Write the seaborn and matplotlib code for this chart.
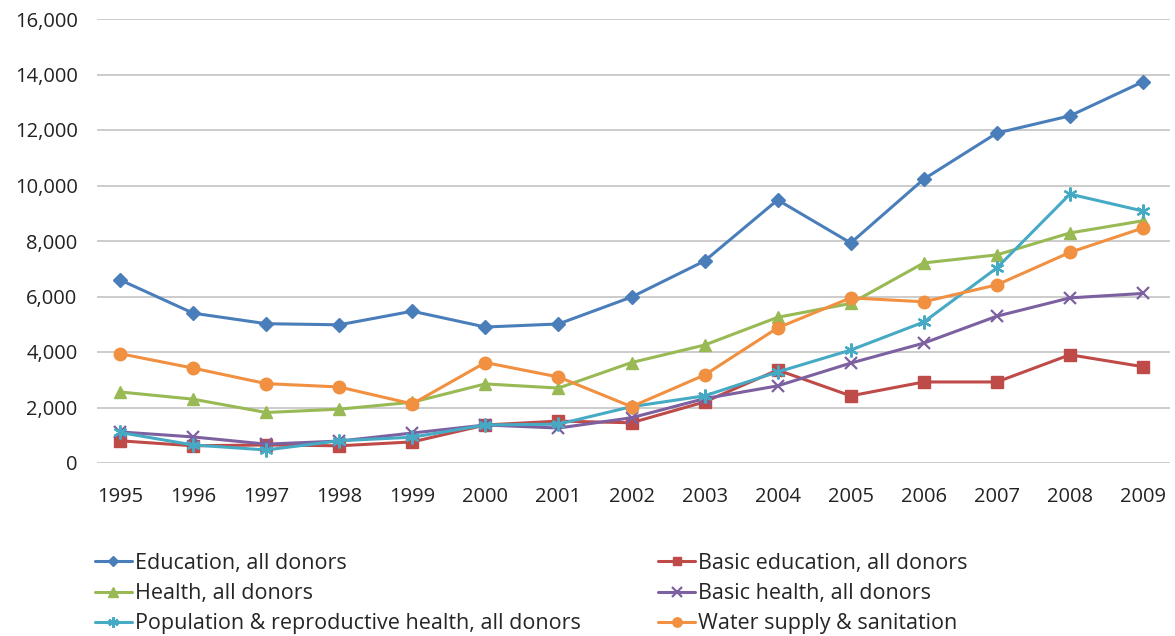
import numpy as np
import pandas as pd
import matplotlib
matplotlib.use("Agg")
import matplotlib.pyplot as plt
import seaborn as sns

# -------------------------------
# Data
# -------------------------------
years = list(range(1995, 2010))

education = [6600, 5400, 5020, 4980, 5470, 4900, 5010, 5980, 7280, 9480, 7930, 10230, 11890, 12510, 13740]
basic_education = [800, 620, 650, 620, 760, 1370, 1510, 1450, 2200, 3350, 2420, 2920, 2920, 3900, 3470]
health = [2560, 2300, 1820, 1940, 2190, 2850, 2700, 3620, 4250, 5250, 5750, 7210, 7500, 8290, 8730]
basic_health = [1120, 940, 680, 790, 1080, 1370, 1260, 1630, 2320, 2780, 3600, 4320, 5290, 5950, 6110]
population = [1100, 650, 470, 800, 930, 1370, 1400, 2030, 2420, 3280, 4070, 5080, 7030, 9690, 9080]
water = [3940, 3420, 2860, 2740, 2130, 3620, 3100, 2030, 3170, 4870, 5950, 5810, 6420, 7590, 8470]

series_names = [
    "Education, all donors",
    "Basic education, all donors",
    "Health, all donors",
    "Basic health, all donors",
    "Population & reproductive health, all donors",
    "Water supply & sanitation",
]
series_values = [education, basic_education, health, basic_health, population, water]
colors = ["#4A7EBB", "#BE4B48", "#98B954", "#7D60A0", "#46AAC5", "#F09040"]
markers = ["D", "s", "^", "x", (6, 2, 0), "o"]
marker_sizes = [7, 8, 9, 9, 10, 9]

df = pd.DataFrame({"year": years})
for name, vals in zip(series_names, series_values):
    df[name] = vals
df_long = df.melt(id_vars="year", var_name="series", value_name="value")

# -------------------------------
# Plot
# -------------------------------
sns.set_style("white")
plt.rcParams["font.family"] = ["Open Sans", "DejaVu Sans"]

fig = plt.figure(figsize=(11.75, 6.36), dpi=100)
ax = fig.add_axes([97 / 1175, 1 - 463 / 636, (1170 - 97) / 1175, (463 - 19) / 636])

handles = {}
for name, c, m, ms in zip(series_names, colors, markers, marker_sizes):
    sub = df_long[df_long["series"] == name]
    sns.lineplot(data=sub, x="year", y="value", ax=ax, color=c, marker=m,
                 markersize=ms, linewidth=2.2, markeredgecolor=c,
                 markeredgewidth=1.6 if m in ("x", (6, 2, 0)) else 1.0,
                 label=name, legend=False)
    handles[name] = ax.lines[-1]

px_per_year = (1143 - 120) / 14
ax.set_xlim(1995 - 23 / px_per_year, 2009 + 27 / px_per_year)
ax.set_ylim(0, 16000)
ax.set_xticks(years)
ax.set_yticks(range(0, 16001, 2000))
ax.set_yticklabels([f"{v:,}" for v in range(0, 16001, 2000)])
ax.yaxis.grid(True, color="#C8C8C8", linewidth=1.3)
ax.set_axisbelow(True)
for s in ax.spines.values():
    s.set_visible(False)
ax.tick_params(axis="both", length=0, labelsize=14.5, colors="#222222")
ax.tick_params(axis="x", pad=17)
ax.tick_params(axis="y", pad=14)
ax.set_xlabel("")
ax.set_ylabel("")

order = [series_names[i] for i in (0, 2, 4, 1, 3, 5)]
fig.legend([handles[n] for n in order], order, ncol=2, loc="upper left",
           bbox_to_anchor=(95 / 1175, 1 - 553 / 636), frameon=False,
           fontsize=15.5, handlelength=1.7, handletextpad=0.15,
           columnspacing=3.6, labelspacing=0.42, borderaxespad=0,
           markerscale=0.75, borderpad=0)

fig.savefig("out.png", dpi=100)
